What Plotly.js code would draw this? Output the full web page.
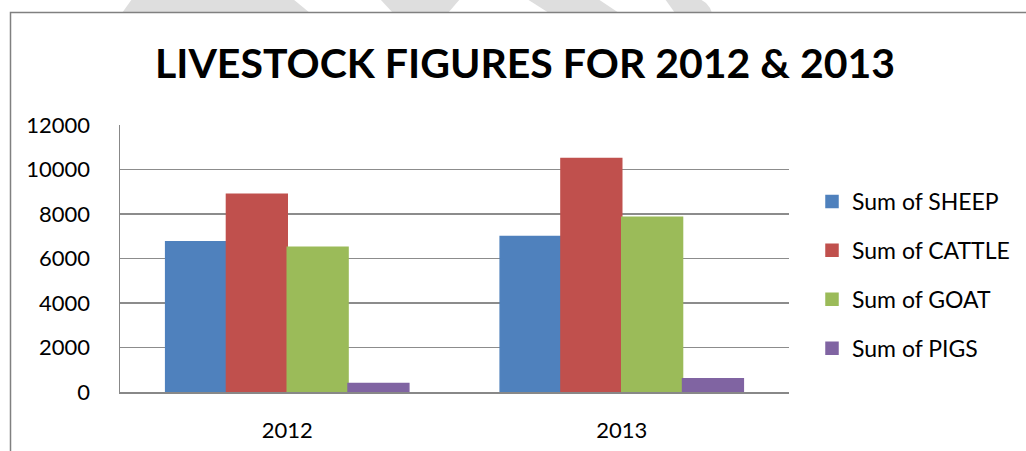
<!DOCTYPE html>
<html>
<head>
<meta charset="utf-8">
<script src="https://cdn.plot.ly/plotly-3.0.1.min.js"></script>
<style>html,body{margin:0;padding:0;background:#fff;}#chart{width:1026px;height:451px;}</style>
</head>
<body>
<div id="chart"></div>
<script>
const years = ["2012", "2013"];
const sheep = [6750, 6990];
const cattle = [8890, 10500];
const goat = [6510, 7850];
const pigs = [380, 590];
const seriesNames = ["Sum of SHEEP", "Sum of CATTLE", "Sum of GOAT", "Sum of PIGS"];
const seriesColors = ["#4F81BD", "#C0504D", "#9BBB59", "#8064A2"];
const yTicks = [0, 2000, 4000, 6000, 8000, 10000, 12000];
const titleText = "LIVESTOCK FIGURES FOR 2012 & 2013";

const W = 1026, H = 451;
const L = 120, R = 789, T = 125, B = 392;
function px(x) { return (x - L) / (R - L); }
function py(y) { return (B - y) / (B - T); }
function poly(pts) {
  return pts.map((p, i) => (i ? "L" : "M") + px(p[0]) + "," + py(p[1])).join(" ") + " Z";
}

const values = [sheep, cattle, goat, pigs];
const traces = values.map((v, i) => ({
  type: "bar",
  x: years,
  y: v,
  name: seriesNames[i],
  legendgroup: "g" + i,
  marker: { color: seriesColors[i], line: { color: seriesColors[i], width: 1.5 } },
  hoverinfo: "x+y+name"
}));

const wm = "#dedede";
const shapes = [
  { type: "path", xref: "paper", yref: "paper", layer: "below", fillcolor: wm, line: { width: 0 },
    path: poly([[132, -1], [293, -1], [310, 13], [122, 13]]) },
  { type: "path", xref: "paper", yref: "paper", layer: "below", fillcolor: wm, line: { width: 0 },
    path: poly([[380, -1], [460, -1], [448, 13], [393, 13]]) },
  { type: "path", xref: "paper", yref: "paper", layer: "below", fillcolor: wm, line: { width: 0 },
    path: poly([[527, -1], [598, -1], [619, 13], [549, 13]]) },
  { type: "path", xref: "paper", yref: "paper", layer: "below", fillcolor: wm, line: { width: 0 },
    path: poly([[665, -1], [700, -1], [706, 3], [710, 8], [712, 13], [675, 13]]) },
  { type: "path", xref: "paper", yref: "paper", layer: "below", fillcolor: "#ffffff", line: { width: 0 },
    path: poly([[11, 13], [1030, 13], [1030, 460], [11, 460]]) },
  { type: "path", xref: "paper", yref: "paper", layer: "below", line: { color: "#808080", width: 1.5 },
    path: "M" + px(10.5) + "," + py(460) + " L" + px(10.5) + "," + py(12.5) + " L" + px(1030) + "," + py(12.5) }
];

const layout = {
  width: W, height: H,
  margin: { l: L, r: W - R, t: T, b: H - B, pad: 0 },
  paper_bgcolor: "#ffffff",
  plot_bgcolor: "rgba(0,0,0,0)",
  font: { family: "Lato, 'Open Sans', sans-serif", size: 22, color: "#000000" },
  title: {
    text: "<b>" + titleText + "</b>",
    font: { family: "Lato, sans-serif", size: 41, color: "#000000" },
    x: 525 / W, xref: "container", xanchor: "center",
    y: 1 - 64 / H, yref: "container", yanchor: "middle"
  },
  barmode: "group",
  bargap: 0.273,
  bargroupgap: 0,
  showlegend: true,
  legend: {
    xref: "container", yref: "container",
    x: 812 / W, xanchor: "left",
    y: 1 - 180 / H, yanchor: "top",
    traceorder: "grouped",
    tracegroupgap: 16,
    font: { family: "Lato, sans-serif", size: 23, color: "#000000" },
    bgcolor: "rgba(0,0,0,0)",
    itemclick: false
  },
  xaxis: {
    type: "category",
    range: [-0.5, 1.5],
    showline: true, linecolor: "#888888", linewidth: 1.5,
    showgrid: false, zeroline: false,
    ticks: "",
    ticklabelstandoff: 18,
    tickfont: { family: "Lato, sans-serif", size: 22, color: "#000000" }
  },
  yaxis: {
    range: [0, 12000],
    tickvals: yTicks,
    ticktext: yTicks.map(String),
    showline: true, linecolor: "#888888", linewidth: 1.5,
    showgrid: true, gridcolor: "#8c8c8c", gridwidth: 1.5,
    zeroline: false,
    ticks: "",
    ticklabelstandoff: 24,
    tickfont: { family: "Lato, sans-serif", size: 22, color: "#000000" }
  },
  shapes: shapes
};

Plotly.newPlot("chart", traces, layout, { displayModeBar: false, staticPlot: true });
</script>
</body>
</html>
